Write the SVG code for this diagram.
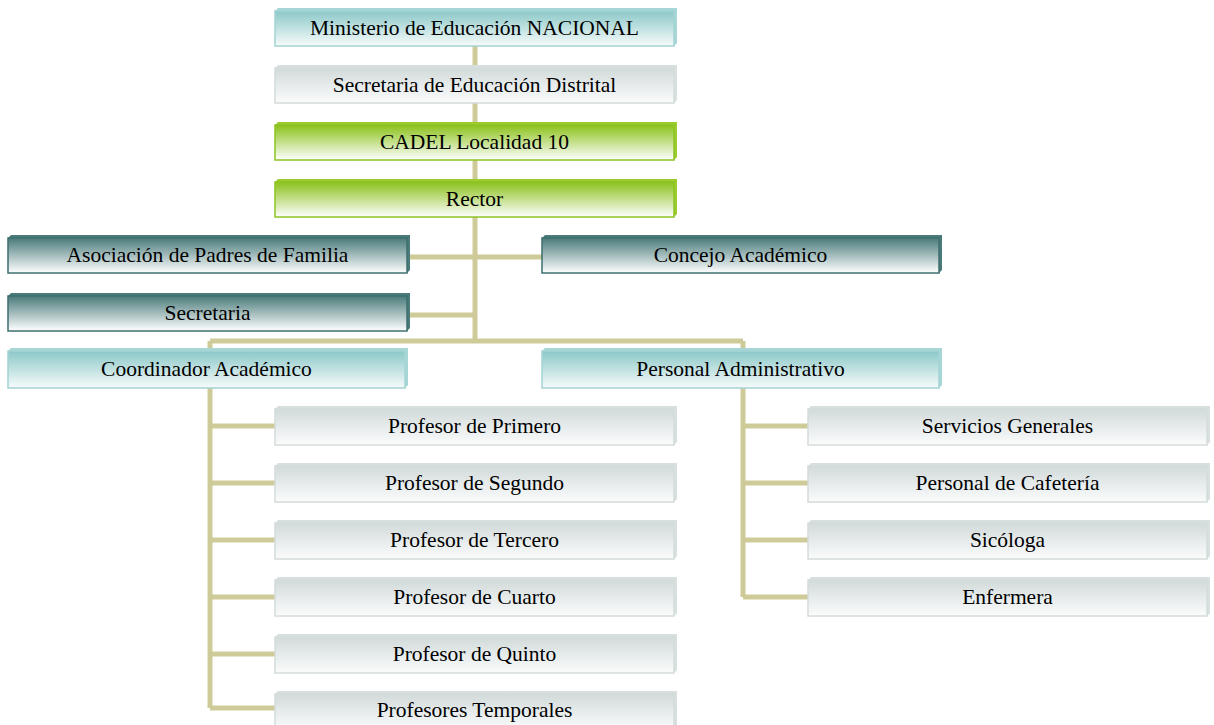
<svg xmlns="http://www.w3.org/2000/svg" width="1214" height="725" viewBox="0 0 1214 725">
<defs>
<linearGradient id="gTeal" x1="0" y1="0" x2="0" y2="1"><stop offset="0" stop-color="#8CC8C8"/><stop offset="1" stop-color="#F7FBFB"/></linearGradient>
<linearGradient id="gGray" x1="0" y1="0" x2="0" y2="1"><stop offset="0" stop-color="#D2DADA"/><stop offset="1" stop-color="#FBFCFC"/></linearGradient>
<linearGradient id="gGreen" x1="0" y1="0" x2="0" y2="1"><stop offset="0" stop-color="#8CC21C"/><stop offset="1" stop-color="#FFFFFF"/></linearGradient>
<linearGradient id="gDark" x1="0" y1="0" x2="0" y2="1"><stop offset="0" stop-color="#4B7B7B"/><stop offset="1" stop-color="#FFFFFF"/></linearGradient>
<style>
.t{font-family:"Liberation Serif","Times New Roman",serif;font-size:21.5px;fill:#000;text-anchor:middle}
.con{stroke:#CFCB98;stroke-width:5;fill:none}
.teal .f{fill:url(#gTeal);stroke:#A4D3D3;stroke-width:1.5}
.teal .b{fill:#A6D6D6}
.gray .f{fill:url(#gGray);stroke:#D4DCDC;stroke-width:1.5}
.gray .b{fill:#D8DFDF}
.green .f{fill:url(#gGreen);stroke:#8DC423;stroke-width:1.5}
.green .b{fill:#9CCB2E}
.dark .f{fill:url(#gDark);stroke:#3F6F6F;stroke-width:1.5}
.dark .b{fill:#4A7A7A}
</style>
</defs>
<g id="connectors" class="con">
<path d="M475,46 V341"/>
<path d="M410,257 H542"/>
<path d="M410,315 H475"/>
<path d="M210,341 H743"/>
<path d="M210,341 V708"/>
<path d="M210,426 H275 M210,483 H275 M210,540 H275 M210,597 H275 M210,654 H275 M210,708 H275"/>
<path d="M743,341 V597"/>
<path d="M743,426 H808 M743,483 H808 M743,540 H808 M743,597 H808"/>
</g>
<g id="n1" class="teal"><polygon class="b" points="275,11 278,8 677,8 677,43 674,46 674,11"/><rect class="f" x="275" y="11" width="399" height="35"/><text class="t" x="474.5" y="35">Ministerio de Educación NACIONAL</text></g>
<g id="n2" class="gray"><polygon class="b" points="275,68 278,65 677,65 677,100 674,103 674,68"/><rect class="f" x="275" y="68" width="399" height="35"/><text class="t" x="474.5" y="92">Secretaria de Educación Distrital</text></g>
<g id="n3" class="green"><polygon class="b" points="275,125 278,122 677,122 677,157 674,160 674,125"/><rect class="f" x="275" y="125" width="399" height="35"/><text class="t" x="474.5" y="149">CADEL Localidad 10</text></g>
<g id="n4" class="green"><polygon class="b" points="275,182 278,179 677,179 677,214 674,217 674,182"/><rect class="f" x="275" y="182" width="399" height="35"/><text class="t" x="474.5" y="206">Rector</text></g>
<g id="n5" class="dark"><polygon class="b" points="8,238 11,235 410,235 410,270 407,273 407,238"/><rect class="f" x="8" y="238" width="399" height="35"/><text class="t" x="207.5" y="262">Asociación de Padres de Familia</text></g>
<g id="n6" class="dark"><polygon class="b" points="542,238 545,235 942,235 942,270 939,273 939,238"/><rect class="f" x="542" y="238" width="397" height="35"/><text class="t" x="740.5" y="262">Concejo Académico</text></g>
<g id="n7" class="dark"><polygon class="b" points="8,296 11,293 410,293 410,328 407,331 407,296"/><rect class="f" x="8" y="296" width="399" height="35"/><text class="t" x="207.5" y="320">Secretaria</text></g>
<g id="n8" class="teal"><polygon class="b" points="8,351 11,348 408,348 408,385 405,388 405,351"/><rect class="f" x="8" y="351" width="397" height="37"/><text class="t" x="206.5" y="376">Coordinador Académico</text></g>
<g id="n9" class="teal"><polygon class="b" points="542,351 545,348 942,348 942,385 939,388 939,351"/><rect class="f" x="542" y="351" width="397" height="37"/><text class="t" x="740.5" y="376">Personal Administrativo</text></g>
<g id="n10" class="gray"><polygon class="b" points="275,409 278,406 677,406 677,442 674,445 674,409"/><rect class="f" x="275" y="409" width="399" height="36"/><text class="t" x="474.5" y="433">Profesor de Primero</text></g>
<g id="n11" class="gray"><polygon class="b" points="275,466 278,463 677,463 677,499 674,502 674,466"/><rect class="f" x="275" y="466" width="399" height="36"/><text class="t" x="474.5" y="490">Profesor de Segundo</text></g>
<g id="n12" class="gray"><polygon class="b" points="275,523 278,520 677,520 677,556 674,559 674,523"/><rect class="f" x="275" y="523" width="399" height="36"/><text class="t" x="474.5" y="547">Profesor de Tercero</text></g>
<g id="n13" class="gray"><polygon class="b" points="275,580 278,577 677,577 677,613 674,616 674,580"/><rect class="f" x="275" y="580" width="399" height="36"/><text class="t" x="474.5" y="604">Profesor de Cuarto</text></g>
<g id="n14" class="gray"><polygon class="b" points="275,637 278,634 677,634 677,670 674,673 674,637"/><rect class="f" x="275" y="637" width="399" height="36"/><text class="t" x="474.5" y="661">Profesor de Quinto</text></g>
<g id="n15" class="gray"><polygon class="b" points="275,694 278,691 677,691 677,727 674,730 674,694"/><rect class="f" x="275" y="694" width="399" height="36"/><text class="t" x="474.5" y="717">Profesores Temporales</text></g>
<g id="n16" class="gray"><polygon class="b" points="808,409 811,406 1210,406 1210,442 1207,445 1207,409"/><rect class="f" x="808" y="409" width="399" height="36"/><text class="t" x="1007.5" y="433">Servicios Generales</text></g>
<g id="n17" class="gray"><polygon class="b" points="808,466 811,463 1210,463 1210,499 1207,502 1207,466"/><rect class="f" x="808" y="466" width="399" height="36"/><text class="t" x="1007.5" y="490">Personal de Cafetería</text></g>
<g id="n18" class="gray"><polygon class="b" points="808,523 811,520 1210,520 1210,556 1207,559 1207,523"/><rect class="f" x="808" y="523" width="399" height="36"/><text class="t" x="1007.5" y="547">Sicóloga</text></g>
<g id="n19" class="gray"><polygon class="b" points="808,580 811,577 1210,577 1210,613 1207,616 1207,580"/><rect class="f" x="808" y="580" width="399" height="36"/><text class="t" x="1007.5" y="604">Enfermera</text></g>
</svg>
